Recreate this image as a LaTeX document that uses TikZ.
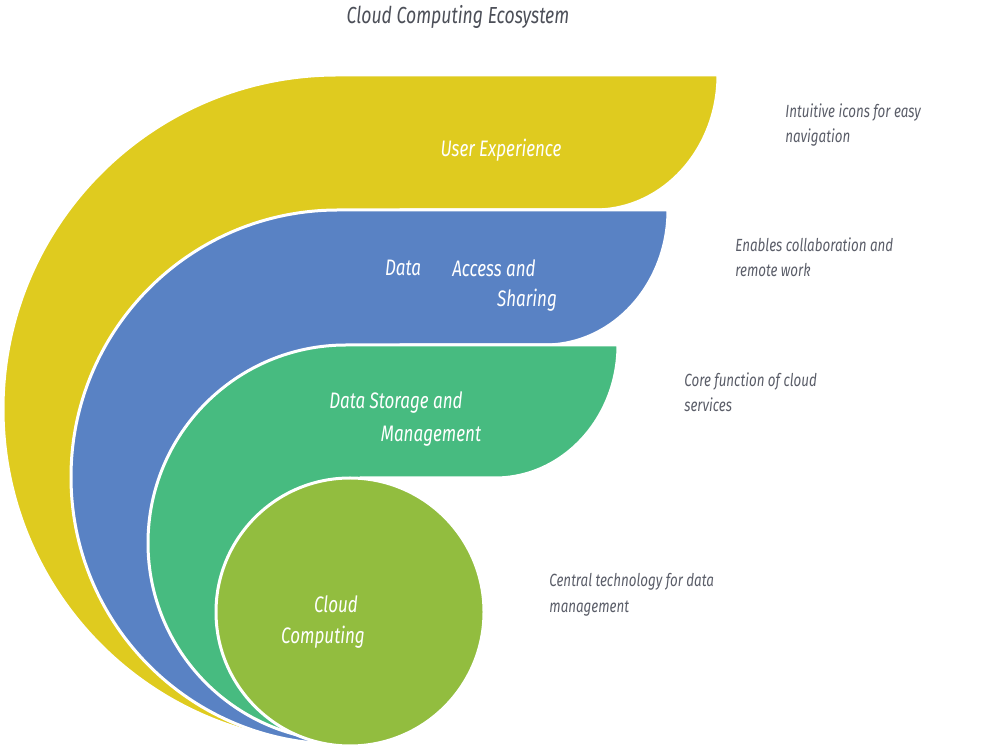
\documentclass[tikz,border=0pt]{standalone}
\usepackage{fontspec}
\setmainfont{Fira Sans}[FakeStretch=0.76]
\definecolor{cyel}{RGB}{223,203,31}
\definecolor{cblue}{RGB}{89,130,196}
\definecolor{cteal}{RGB}{71,187,128}
\definecolor{clime}{RGB}{146,189,63}
\definecolor{cgray}{RGB}{90,93,104}
\begin{document}
\begin{tikzpicture}[x=0.5pt,y=0.5pt,
  band/.style={draw=white,line width=1.5pt,line join=round},
  lbl/.style={text=white,font=\itshape\fontsize{11.2}{13}\selectfont,inner sep=0pt},
  desc/.style={text=cgray,font=\itshape\fontsize{8.8}{12.8}\selectfont,align=left,anchor=north west,inner sep=0pt}]
\useasboundingbox (0,0) rectangle (1000,749);
% yellow band
\path[band,fill=cyel] (337,674) -- (718,674) arc[start angle=0,end angle=-90,x radius=123,y radius=135]
  -- (400,539) -- (350,137) -- (337,6) arc[start angle=-90,end angle=-270,radius=334] -- cycle;
% blue band
\path[band,fill=cblue] (338,539) -- (668,539) arc[start angle=0,end angle=-90,x radius=123,y radius=135]
  -- (400,404) -- (350,137) -- (338,5) arc[start angle=-90,end angle=-270,radius=267] -- cycle;
% green band
\path[band,fill=cteal] (346,404) -- (618,404) arc[start angle=0,end angle=-90,x radius=123,y radius=133]
  -- (360,271) -- (350,137) -- (346,8) arc[start angle=-90,end angle=-270,radius=198] -- cycle;
% core circle
\node[band,fill=clime,circle,minimum size=134pt,inner sep=0pt] (core) at (350,137) {};
% title
\node[text=cgray!85!black,font=\itshape\fontsize{11.6}{14}\selectfont,inner sep=0pt] (title) at (458,732) {Cloud Computing Ecosystem};
% band labels
\node[lbl] (ux) at (501,599) {User Experience};
\node[lbl] (da1) at (403,481) {Data};
\node[lbl] (da2) at (494,481) {Access and};
\node[lbl] (da3) at (527,449) {Sharing};
\node[lbl] (ds1) at (396,346) {Data Storage and};
\node[lbl] (ds2) at (431,313) {Management};
\node[lbl] (cc1) at (336,145) {Cloud};
\node[lbl] (cc2) at (323,112) {Computing};
% descriptions
\node[desc] (d1) at (785,646) {Intuitive icons for easy\\navigation};
\node[desc] (d2) at (735,512) {Enables collaboration and\\remote work};
\node[desc] (d3) at (684,377) {Core function of cloud\\services};
\node[desc] (d4) at (549,176) {Central technology for data\\management};
\end{tikzpicture}
\end{document}
